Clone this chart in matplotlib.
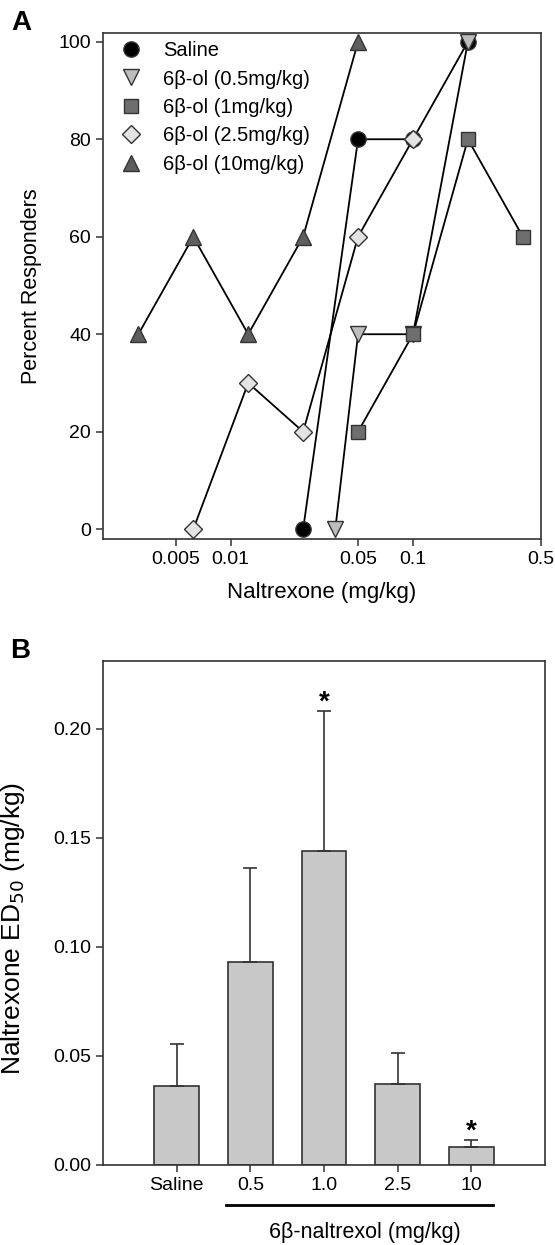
import numpy as np
import matplotlib
matplotlib.use("Agg")
import matplotlib.pyplot as plt
import matplotlib.ticker as mticker
import matplotlib.transforms as mtrans

plt.rcParams["font.family"] = ["Liberation Sans", "DejaVu Sans"]

# Panel A: cumulative dose-response, naltrexone dose (mg/kg) vs percent responders
saline_x = [0.025, 0.05, 0.1, 0.2]
saline_y = [0, 80, 80, 100]
ol05_x = [0.0375, 0.05, 0.1, 0.2]
ol05_y = [0, 40, 40, 100]
ol1_x = [0.05, 0.1, 0.2, 0.4]
ol1_y = [20, 40, 80, 60]
ol25_x = [0.00625, 0.0125, 0.025, 0.05, 0.1]
ol25_y = [0, 30, 20, 60, 80]
ol10_x = [0.003125, 0.00625, 0.0125, 0.025, 0.05]
ol10_y = [40, 60, 40, 60, 100]

series_labels = ["Saline", "6β-ol (0.5mg/kg)", "6β-ol (1mg/kg)",
                 "6β-ol (2.5mg/kg)", "6β-ol (10mg/kg)"]
x_ticks_a = [0.005, 0.01, 0.05, 0.1, 0.5]
x_ticklabels_a = ["0.005", "0.01", "0.05", "0.1", "0.5"]

# Panel B: ED50 values
groups = ["Saline", "0.5", "1.0", "2.5", "10"]
ed50 = [0.0362, 0.0930, 0.1438, 0.0371, 0.0082]
ed50_err = [0.0191, 0.0431, 0.0641, 0.0140, 0.0032]
significant = [False, False, True, False, True]

fig = plt.figure(figsize=(5.55, 12.45), dpi=100)
ax1 = fig.add_axes([0.1856, 0.5671, 0.7883, 0.4064])
ax2 = fig.add_axes([0.1856, 0.0643, 0.7964, 0.4048])

edge = "#333333"
styles = [
    (saline_x, saline_y, "o", "black", 11),
    (ol05_x, ol05_y, "v", "#bdbdbd", 11),
    (ol1_x, ol1_y, "s", "#6e6e6e", 10),
    (ol25_x, ol25_y, "D", "#e3e3e3", 9),
    (ol10_x, ol10_y, "^", "#5e5e5e", 11),
]

# lines first, markers on top
for xs, ys, m, c, s in styles:
    ax1.plot(xs, ys, color="black", lw=1.3, zorder=2)
for (xs, ys, m, c, s), lab in zip(styles, series_labels):
    ax1.plot(xs, ys, ls="none", marker=m, ms=s, mfc=c, mec=edge, mew=1.0,
             zorder=3, label=lab)

ax1.set_xscale("log")
ax1.set_xlim(0.002, 0.5)
ax1.set_ylim(-2, 101.8)
ax1.set_xticks(x_ticks_a)
ax1.set_xticklabels(x_ticklabels_a)
ax1.xaxis.set_minor_locator(mticker.NullLocator())
ax1.set_yticks([0, 20, 40, 60, 80, 100])
ax1.set_xlabel("Naltrexone (mg/kg)", fontsize=16, labelpad=10)
ax1.set_ylabel("Percent Responders", fontsize=15.5, labelpad=12)
ax1.legend(loc="upper left", bbox_to_anchor=(0.0, 1.0), frameon=False,
           fontsize=14.5, labelspacing=0.47, handletextpad=0.6,
           borderaxespad=0.0)
ax1.text(-0.21, 1.02, "A", transform=ax1.transAxes, fontsize=20,
         fontweight="bold", va="center", ha="left")

# Panel B bars
pos = np.arange(1, len(groups) + 1)
ax2.bar(pos, ed50, width=0.61, color="#c8c8c8", edgecolor=edge, lw=1.2,
        zorder=2)
ax2.errorbar(pos, ed50, yerr=[np.zeros(len(ed50)), ed50_err], fmt="none",
             ecolor=edge, elinewidth=1.2, capsize=5, capthick=1.2, zorder=3)
for p, v, e, sig in zip(pos, ed50, ed50_err, significant):
    if sig:
        ax2.text(p, v + e - 0.002, "*", ha="center", va="bottom",
                 fontsize=20, fontweight="bold")

ax2.set_xlim(0, 6)
ax2.set_ylim(0, 0.231)
ax2.set_xticks(pos)
ax2.set_xticklabels(groups)
ax2.set_yticks([0.0, 0.05, 0.10, 0.15, 0.20])
ax2.yaxis.set_major_formatter(mticker.FormatStrFormatter("%.2f"))
ax2.set_ylabel("Naltrexone ED$_{50}$ (mg/kg)", fontsize=19, labelpad=10)
ax2.yaxis.set_label_coords(-0.172, 0.47)
trans = mtrans.blended_transform_factory(ax2.transData, ax2.transAxes)
ax2.plot([1.67, 5.3], [-0.079, -0.079], color="black", lw=2,
         transform=trans, clip_on=False)
ax2.text(3.55, -0.135, "6β-naltrexol (mg/kg)", transform=trans,
         ha="center", va="center", fontsize=15.5)
ax2.text(-0.21, 1.02, "B", transform=ax2.transAxes, fontsize=20,
         fontweight="bold", va="center", ha="left")

for ax in (ax1, ax2):
    for sp in ax.spines.values():
        sp.set_color(edge)
        sp.set_linewidth(1.2)
    ax.tick_params(direction="out", length=5, width=1.1, colors=edge,
                   labelcolor="black", labelsize=14)

fig.savefig("out.png", dpi=100)
